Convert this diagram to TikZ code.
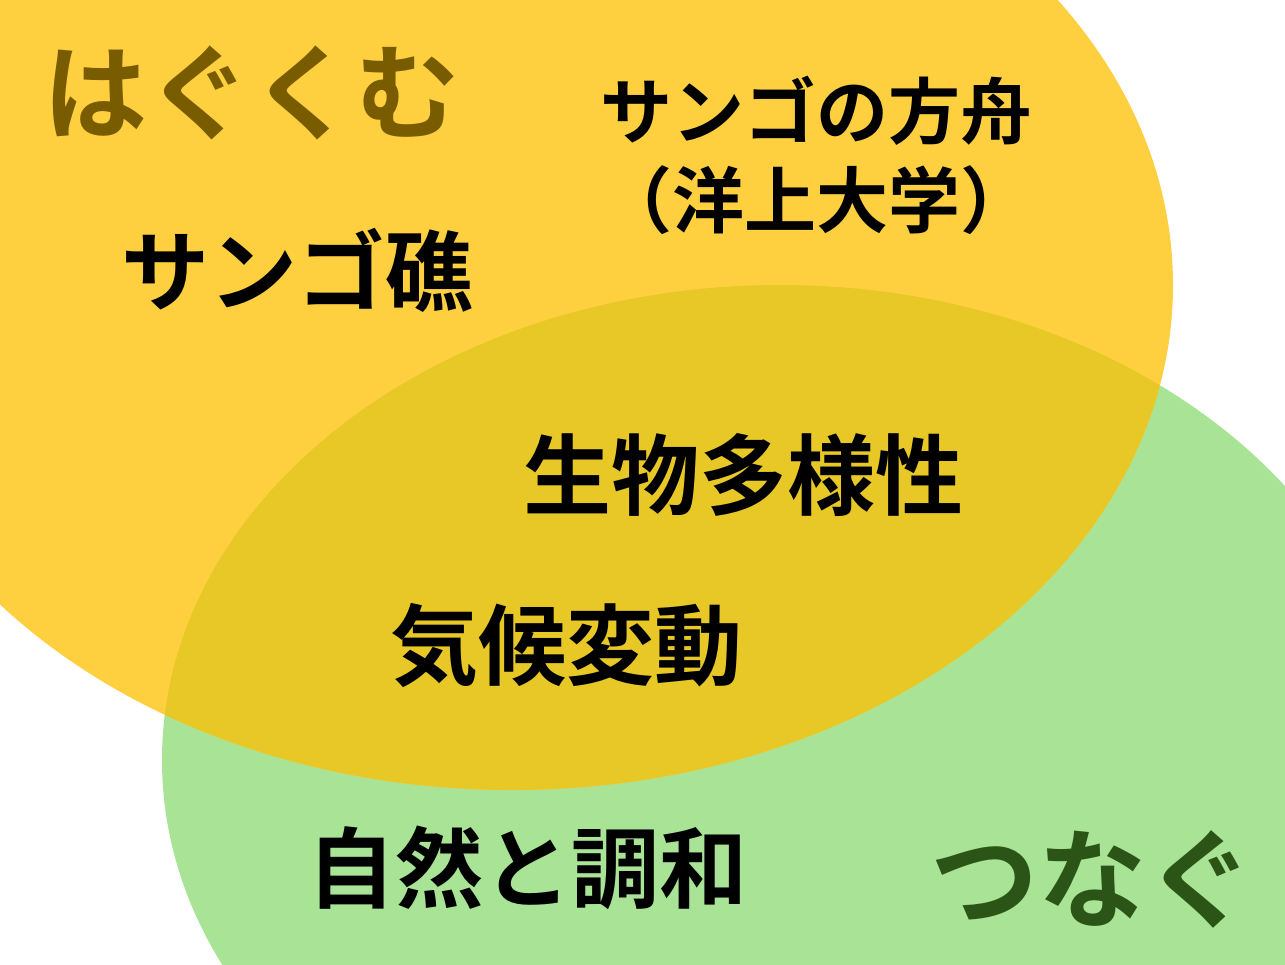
\documentclass[tikz,border=0pt]{standalone}
\usepackage{fontspec}
\setmainfont{Noto Sans CJK JP}[BoldFont={Noto Sans CJK JP Bold}]
\definecolor{yel}{HTML}{FED040}
\definecolor{grn}{HTML}{A9E396}
\definecolor{ovl}{HTML}{E8C826}
\definecolor{brn}{HTML}{7A5C00}
\definecolor{dgr}{HTML}{2B5516}
\tikzset{
  txt/.style={inner sep=0pt, outer sep=0pt, text=black},
  fbig/.style={font=\bfseries\fontsize{104}{120}\selectfont},
  fmid/.style={font=\bfseries\fontsize{88}{106}\selectfont},
  fsml/.style={font=\bfseries\fontsize{72}{89}\selectfont, align=center},
}
\begin{document}
\begin{tikzpicture}[x=1pt,y=-1pt]
\useasboundingbox (0,0) rectangle (1285,964);
\clip (0,0) rectangle (1285,964);
\fill[grn] (780,760) ellipse [x radius=618, y radius=475];
\fill[yel] (512,285) ellipse [x radius=661, y radius=505];
\begin{scope}
  \clip (780,760) ellipse [x radius=618, y radius=475];
  \fill[ovl] (512,285) ellipse [x radius=661, y radius=505];
\end{scope}
\node[txt, fbig, text=brn] (hag) at (251,93) {はぐくむ};
\node[txt, fsml] (hak) at (816,155) {サンゴの方舟\\（洋上大学）};
\node[txt, fmid] (sho) at (297,270) {サンゴ礁};
\node[txt, fmid] (sei) at (743,475) {生物多様性};
\node[txt, fmid] (kik) at (566,646) {気候変動};
\node[txt, fmid] (shi) at (527,868) {自然と調和};
\node[txt, font=\bfseries\fontsize{108}{124}\selectfont, text=dgr] (tsu) at (1092,879) {つなぐ};
\end{tikzpicture}
\end{document}
